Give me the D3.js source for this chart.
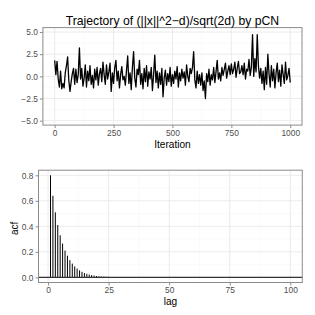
<!DOCTYPE html>
<html>
<head>
<meta charset="utf-8">
<script src="https://cdn.jsdelivr.net/npm/d3@7"></script>
<style>
  body { margin: 0; background: #fff; }
  svg { display: block; font-family: "Liberation Sans", Arial, sans-serif; }
</style>
</head>
<body>
<div id="chart"></div>
<script>
// trajectory, read every 5 iterations
var iterStep = 5;
var traj = [
  1.8, 0.2, 1.7, -0.3, -1.2, 0.6, -1.4, -0.8, -1.3, 0.4,
  1.2, 2.2, -0.5, -1.7, -0.6, 0.3, 0.9, -0.9, 0.8, -0.7,
  0.2, 3.2, -0.3, 0.9, -1.1, -0.2, 1.3, -1.2, 0.6, -0.5,
  1.2, -0.9, 0.1, -1.3, 0.8, -0.4, 1.0, -1.0, 0.3, 0.9,
  -0.6, 1.6, 0.2, -0.9, 1.3, -0.3, 0.5, 1.5, -1.7, 0.4,
  -0.8, 1.0, 1.8, -0.5, 0.6, -1.3, 0.2, 1.1, -0.4, 0.0,
  -1.0, 0.7, 2.3, -0.8, 0.4, -1.5, 1.0, 2.8, -0.2, -1.2,
  0.8, 0.2, 1.8, -0.9, 0.3, -1.4, 0.9, -0.6, 1.2, -1.1,
  0.5, -0.3, 1.0, -1.6, 0.2, 2.4, -0.7, 0.6, -1.3, 0.4,
  -0.9, 0.9, -2.3, -0.2, 0.7, -1.0, 0.3, -0.6, 1.0, -1.1,
  0.2, -0.8, 0.6, -0.3, 1.1, -1.2, 0.4, -0.5, 0.8, -0.2,
  0.5, -1.0, 1.3, 0.0, -0.6, 0.9, 0.3, 1.0, 2.8, -0.4,
  -1.3, 0.6, -0.8, 0.2, -1.0, 0.4, -1.6, -0.5, -2.5, 0.3,
  -0.6, 0.8, -1.0, 0.2, -0.4, 1.0, -0.7, 0.5, 1.8, -0.3,
  0.4, -0.5, 1.0, 0.1, 0.8, 1.5, -0.2, 0.6, 1.2, 0.2,
  1.4, 0.3, 0.8, 1.6, -0.1, 0.9, 1.7, 0.3, 0.5, 1.2,
  0.2, 1.5, -0.3, 0.8, 0.6, 1.9, 0.1, 1.0, 4.7, 0.0,
  2.0, 0.5, 4.7, 1.2, -0.2, 0.9, -0.8, 0.6, -1.5, 1.0,
  -0.9, 2.5, 0.3, -1.2, 1.2, -0.5, 0.8, -1.3, 0.4, 1.5,
  -0.6, 0.7, -1.1, 1.3, 0.2, -0.8, 1.6, -0.4, 0.1, 0.9,
  -0.7
];
var trajXTicks = [0, 250, 500, 750, 1000];
var trajYTicks = [-5, -2.5, 0, 2.5, 5];

// acf for lags 1..100
var acf = [
  0.80, 0.64, 0.51, 0.41, 0.33, 0.265, 0.21, 0.17, 0.135, 0.108,
  0.086, 0.069, 0.055, 0.044, 0.035, 0.028, 0.022, 0.018, 0.014, 0.011,
  0.009, 0.007, 0.006, 0.005, 0.004, 0.003, 0.002, 0.002, 0.001, 0.001,
  0.001, 0.000, 0.001, -0.001, 0.000, 0.001, 0.000, -0.001, 0.000, 0.001,
  0.000, 0.000, -0.001, 0.000, 0.001, 0.000, -0.001, 0.000, 0.000, 0.001,
  0.000, -0.001, 0.000, 0.001, 0.000, 0.000, -0.001, 0.000, 0.001, 0.000,
  0.000, -0.001, 0.000, 0.000, 0.001, 0.000, -0.001, 0.000, 0.000, 0.001,
  0.000, 0.000, -0.001, 0.000, 0.001, 0.000, 0.000, -0.001, 0.000, 0.000,
  0.001, 0.000, -0.001, 0.000, 0.000, 0.001, 0.000, 0.000, -0.001, 0.000,
  0.000, 0.001, 0.000, -0.001, 0.000, 0.000, 0.001, 0.000, 0.000, -0.001
];
var acfXTicks = [0, 25, 50, 75, 100];
var acfYTicks = [0, 0.2, 0.4, 0.6, 0.8];

var width = 315, height = 315;
var svg = d3.select("#chart").append("svg")
  .attr("width", width)
  .attr("height", height);

svg.append("rect").attr("width", width).attr("height", height).attr("fill", "#fff");

function panel(opts) {
  var x = d3.scaleLinear().domain(opts.xDomain).range([opts.left, opts.right]);
  var y = d3.scaleLinear().domain(opts.yDomain).range([opts.bottom, opts.top]);
  var g = svg.append("g");

  g.append("rect")
    .attr("x", opts.left).attr("y", opts.top)
    .attr("width", opts.right - opts.left).attr("height", opts.bottom - opts.top)
    .attr("fill", "#fff");

  // minor grid
  var xMinor = [], yMinor = [];
  for (var i = 0; i < opts.xTicks.length - 1; i++) xMinor.push((opts.xTicks[i] + opts.xTicks[i + 1]) / 2);
  for (var j = 0; j < opts.yTicks.length - 1; j++) yMinor.push((opts.yTicks[j] + opts.yTicks[j + 1]) / 2);

  g.selectAll(".xminor").data(xMinor).enter().append("line")
    .attr("x1", d => x(d)).attr("x2", d => x(d))
    .attr("y1", opts.top).attr("y2", opts.bottom)
    .attr("stroke", "#f7f7f7").attr("stroke-width", 0.6);
  g.selectAll(".yminor").data(yMinor).enter().append("line")
    .attr("y1", d => y(d)).attr("y2", d => y(d))
    .attr("x1", opts.left).attr("x2", opts.right)
    .attr("stroke", "#f7f7f7").attr("stroke-width", 0.6);
  g.selectAll(".xmajor").data(opts.xTicks).enter().append("line")
    .attr("x1", d => x(d)).attr("x2", d => x(d))
    .attr("y1", opts.top).attr("y2", opts.bottom)
    .attr("stroke", "#ebebeb").attr("stroke-width", 1);
  g.selectAll(".ymajor").data(opts.yTicks).enter().append("line")
    .attr("y1", d => y(d)).attr("y2", d => y(d))
    .attr("x1", opts.left).attr("x2", opts.right)
    .attr("stroke", "#ebebeb").attr("stroke-width", 1);

  opts.draw(g, x, y);

  g.append("rect")
    .attr("x", opts.left).attr("y", opts.top)
    .attr("width", opts.right - opts.left).attr("height", opts.bottom - opts.top)
    .attr("fill", "none").attr("stroke", "#8c8c8c").attr("stroke-width", 1);

  var xAxis = d3.axisBottom(x).tickValues(opts.xTicks).tickSize(3).tickPadding(2)
    .tickFormat(opts.xFormat);
  var xa = g.append("g").attr("transform", "translate(0," + opts.bottom + ")").call(xAxis);
  var yAxis = d3.axisLeft(y).tickValues(opts.yTicks).tickSize(3).tickPadding(2)
    .tickFormat(opts.yFormat);
  var ya = g.append("g").attr("transform", "translate(" + opts.left + ",0)").call(yAxis);

  [xa, ya].forEach(function (a) {
    a.select(".domain").remove();
    a.selectAll(".tick line").attr("stroke", "#8c8c8c");
    a.selectAll(".tick text").attr("fill", "#4d4d4d").style("font-size", "8.4px")
      .style("font-family", "'Liberation Sans', Arial, sans-serif");
  });

  g.append("text")
    .attr("x", (opts.left + opts.right) / 2).attr("y", opts.xTitleY)
    .attr("text-anchor", "middle").attr("fill", "#000").style("font-size", "10.1px")
    .text(opts.xTitle);

  if (opts.yTitle) {
    g.append("text")
      .attr("transform", "translate(" + opts.yTitleX + "," + ((opts.top + opts.bottom) / 2 + 2) + ") rotate(-90)")
      .attr("text-anchor", "middle").attr("fill", "#000").style("font-size", "10.1px")
      .text(opts.yTitle);
  }
  if (opts.title) {
    g.append("text")
      .attr("x", (opts.left + opts.right) / 2).attr("y", opts.titleY)
      .attr("text-anchor", "middle").attr("fill", "#000").style("font-size", "12.2px")
      .text(opts.title);
  }
}

var fmt1 = d3.format(".1f");
function minusFmt(d) { return fmt1(d).replace("-", "\u2212"); }

panel({
  left: 42.9, right: 302, top: 27.6, bottom: 125.1,
  xDomain: [-50, 1050], yDomain: [-5.5, 5.5],
  xTicks: trajXTicks, yTicks: trajYTicks,
  xFormat: d3.format("d"), yFormat: minusFmt,
  xTitle: "Iteration", xTitleY: 148,
  title: "Trajectory of (||x||^2\u2212d)/sqrt(2d) by pCN", titleY: 24.5,
  draw: function (g, x, y) {
    var line = d3.line()
      .x((d, i) => x(i * iterStep))
      .y(d => y(d));
    g.append("path").datum(traj)
      .attr("d", line)
      .attr("fill", "none").attr("stroke", "#000").attr("stroke-width", 1.3)
      .attr("stroke-linejoin", "round");
  }
});

panel({
  left: 38.5, right: 302.3, top: 170.2, bottom: 282.5,
  xDomain: [1 - 4.95, 100 + 4.95], yDomain: [-0.04, 0.84],
  xTicks: acfXTicks, yTicks: acfYTicks,
  xFormat: d3.format("d"), yFormat: fmt1,
  xTitle: "lag", xTitleY: 304.5,
  yTitle: "acf", yTitleX: 17.5,
  draw: function (g, x, y) {
    g.selectAll(".bar").data(acf).enter().append("line")
      .attr("x1", (d, i) => x(i + 1)).attr("x2", (d, i) => x(i + 1))
      .attr("y1", y(0)).attr("y2", d => y(d))
      .attr("stroke", "#000").attr("stroke-width", 1);
    g.append("line")
      .attr("x1", 38.5).attr("x2", 302.3)
      .attr("y1", y(0)).attr("y2", y(0))
      .attr("stroke", "#333").attr("stroke-width", 1.3);
  }
});
</script>
</body>
</html>
